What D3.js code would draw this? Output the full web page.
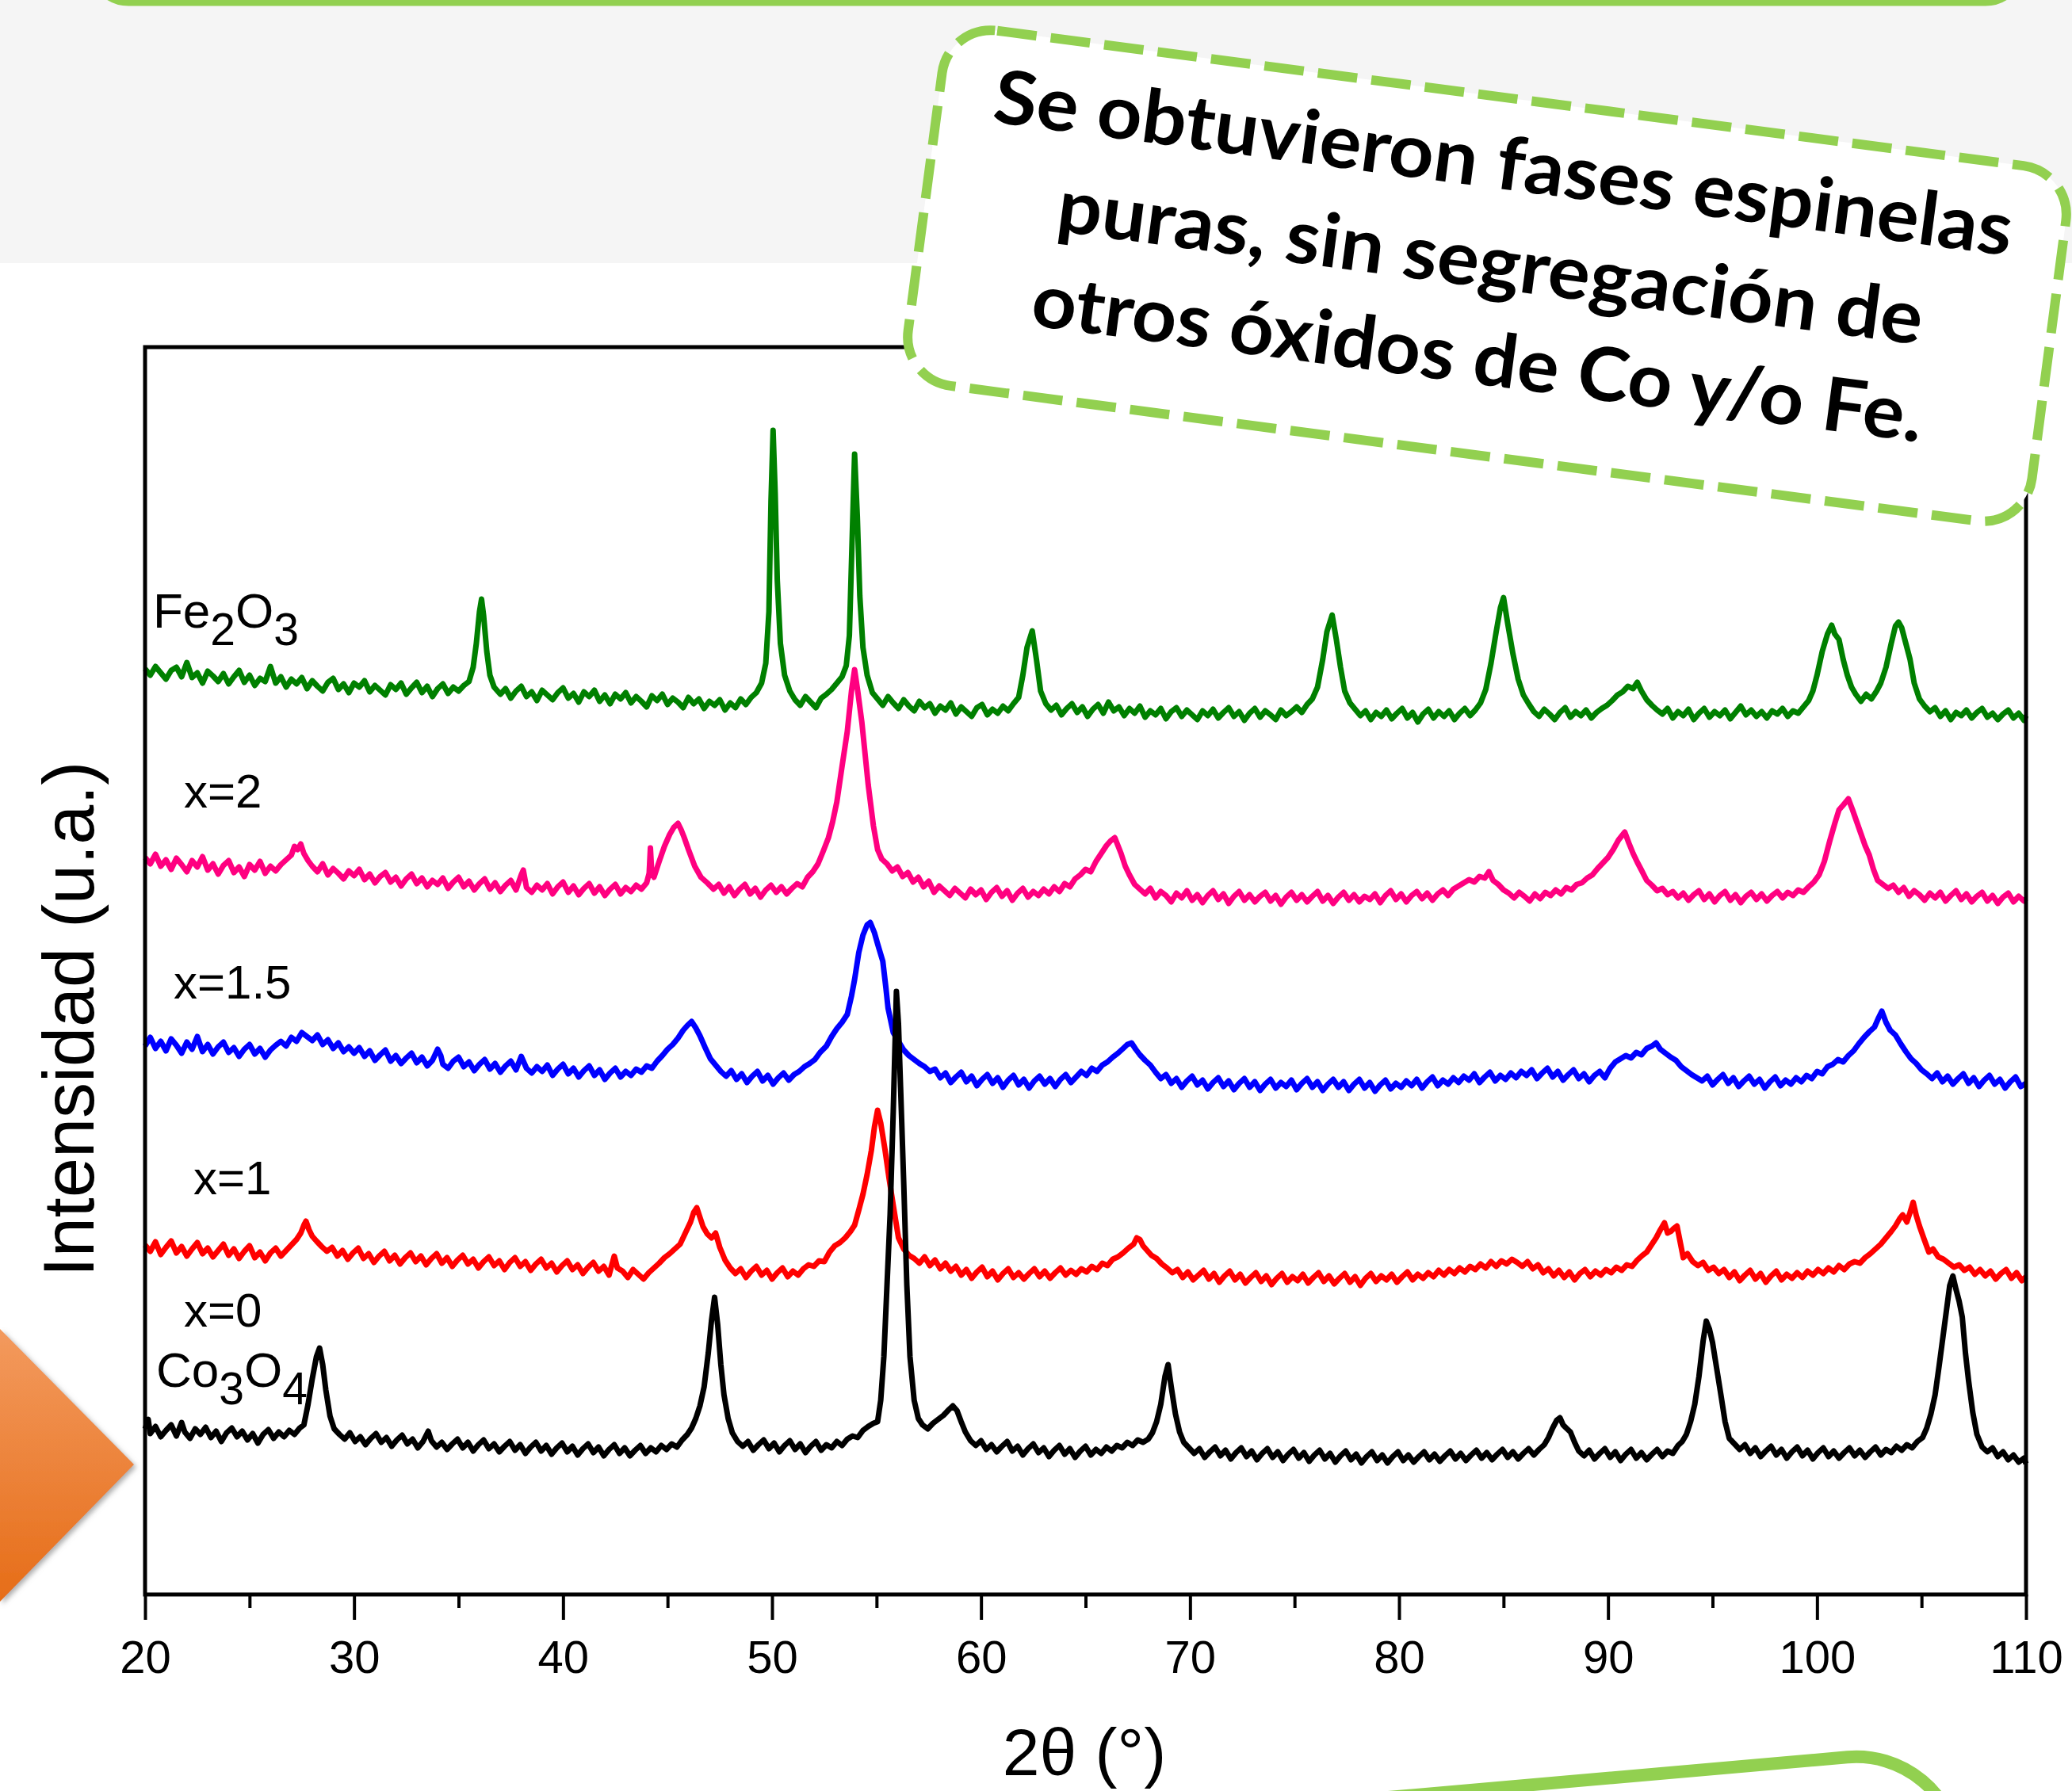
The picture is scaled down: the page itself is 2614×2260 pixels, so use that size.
<!DOCTYPE html>
<html>
<head>
<meta charset="utf-8">
<script src="https://cdn.jsdelivr.net/npm/d3@7"></script>
<style>
body { margin: 0; background: #fff; }
svg { display: block; }
</style>
</head>
<body>
<svg id="chart" width="2614" height="2260"></svg>
<script>
// XRD patterns, [2theta, intensity in u.a.] (stacking offset included)
const fe2o3 = [[20,1168],[20.25,1160],[20.5,1171],[20.75,1163],[21,1155],[21.25,1166],[21.5,1170],[21.75,1158],[22,1176],[22.25,1157],[22.5,1163],[22.75,1150],[23,1165],[23.25,1159],[23.5,1152],[23.75,1162],[24,1149],[24.25,1158],[24.5,1166],[24.75,1151],[25,1160],[25.25,1147],[25.5,1156],[25.75,1152],[26,1171],[26.25,1150],[26.5,1158],[26.75,1145],[27,1155],[27.25,1149],[27.5,1157],[27.75,1143],[28,1153],[28.25,1146],[28.5,1140],[28.75,1151],[29,1156],[29.25,1142],[29.5,1149],[29.75,1138],[30,1150],[30.25,1145],[30.5,1153],[30.75,1139],[31,1147],[31.25,1141],[31.5,1135],[31.75,1148],[32,1142],[32.25,1150],[32.5,1136],[32.75,1144],[33,1151],[33.25,1138],[33.5,1146],[33.75,1133],[34,1143],[34.25,1149],[34.5,1137],[34.75,1145],[35,1140],[35.25,1147],[35.5,1152],[35.7,1170],[35.85,1200],[36,1240],[36.1,1256],[36.2,1235],[36.35,1190],[36.5,1160],[36.7,1145],[37,1136],[37.25,1143],[37.5,1131],[37.75,1140],[38,1146],[38.25,1133],[38.5,1139],[38.75,1128],[39,1141],[39.25,1135],[39.5,1129],[39.75,1138],[40,1144],[40.25,1131],[40.5,1137],[40.75,1126],[41,1139],[41.25,1133],[41.5,1141],[41.75,1127],[42,1135],[42.25,1124],[42.5,1136],[42.75,1130],[43,1138],[43.25,1125],[43.5,1133],[43.75,1127],[44,1120],[44.25,1134],[44.5,1128],[44.75,1136],[45,1123],[45.25,1131],[45.5,1126],[45.75,1119],[46,1132],[46.25,1124],[46.5,1130],[46.75,1118],[47,1127],[47.25,1122],[47.5,1129],[47.75,1116],[48,1125],[48.25,1119],[48.5,1130],[48.75,1123],[49,1132],[49.25,1138],[49.5,1150],[49.7,1175],[49.85,1240],[49.95,1380],[50.05,1469],[50.15,1390],[50.25,1280],[50.4,1200],[50.6,1160],[50.85,1140],[51.1,1129],[51.35,1122],[51.6,1133],[51.85,1126],[52.1,1119],[52.35,1131],[52.6,1136],[52.85,1142],[53.1,1150],[53.35,1158],[53.55,1172],[53.7,1210],[53.82,1320],[53.95,1439],[54.08,1360],[54.2,1260],[54.35,1195],[54.55,1160],[54.8,1138],[55.05,1130],[55.3,1122],[55.55,1133],[55.8,1125],[56.05,1118],[56.3,1129],[56.55,1121],[56.8,1115],[57.05,1127],[57.3,1119],[57.55,1124],[57.8,1112],[58.05,1121],[58.3,1116],[58.55,1125],[58.8,1111],[59.05,1120],[59.3,1114],[59.55,1108],[59.8,1119],[60.05,1123],[60.3,1110],[60.55,1117],[60.8,1112],[61.05,1121],[61.3,1115],[61.55,1124],[61.8,1132],[62,1160],[62.2,1195],[62.45,1216],[62.65,1180],[62.85,1140],[63.1,1124],[63.35,1116],[63.6,1122],[63.85,1110],[64.1,1118],[64.35,1124],[64.6,1113],[64.85,1120],[65.1,1108],[65.35,1117],[65.6,1123],[65.85,1112],[66.1,1126],[66.35,1115],[66.6,1120],[66.85,1109],[67.1,1118],[67.35,1112],[67.6,1121],[67.85,1107],[68.1,1115],[68.35,1110],[68.6,1118],[68.85,1105],[69.1,1114],[69.35,1119],[69.6,1108],[69.85,1116],[70.1,1110],[70.35,1104],[70.6,1115],[70.85,1109],[71.1,1117],[71.35,1106],[71.6,1113],[71.85,1119],[72.1,1108],[72.35,1114],[72.6,1103],[72.85,1112],[73.1,1118],[73.35,1107],[73.6,1115],[73.85,1110],[74.1,1104],[74.35,1116],[74.6,1109],[74.85,1114],[75.1,1120],[75.35,1113],[75.6,1123],[75.85,1130],[76.1,1145],[76.35,1180],[76.55,1215],[76.8,1236],[77,1205],[77.2,1170],[77.4,1140],[77.65,1125],[77.9,1117],[78.15,1109],[78.4,1115],[78.65,1104],[78.9,1113],[79.15,1108],[79.4,1116],[79.65,1105],[79.9,1112],[80.15,1118],[80.4,1106],[80.65,1113],[80.9,1101],[81.15,1111],[81.4,1117],[81.65,1106],[81.9,1114],[82.15,1108],[82.4,1115],[82.65,1104],[82.9,1112],[83.15,1118],[83.4,1109],[83.65,1116],[83.9,1125],[84.15,1142],[84.4,1175],[84.65,1215],[84.85,1245],[85,1258],[85.2,1225],[85.45,1187],[85.7,1155],[85.95,1135],[86.2,1124],[86.45,1114],[86.7,1108],[86.95,1117],[87.2,1111],[87.45,1104],[87.7,1113],[87.95,1119],[88.2,1107],[88.45,1114],[88.7,1109],[88.95,1116],[89.2,1106],[89.45,1113],[89.7,1118],[89.95,1122],[90.2,1128],[90.45,1135],[90.7,1139],[90.95,1146],[91.2,1143],[91.4,1151],[91.6,1140],[91.85,1129],[92.1,1122],[92.35,1116],[92.6,1111],[92.85,1118],[93.1,1106],[93.35,1114],[93.6,1109],[93.85,1117],[94.1,1104],[94.35,1112],[94.6,1118],[94.85,1107],[95.1,1114],[95.35,1109],[95.6,1116],[95.85,1105],[96.1,1113],[96.35,1121],[96.6,1110],[96.85,1116],[97.1,1108],[97.35,1114],[97.6,1106],[97.85,1115],[98.1,1111],[98.35,1118],[98.6,1108],[98.85,1115],[99.1,1112],[99.35,1120],[99.6,1128],[99.8,1140],[100,1160],[100.25,1190],[100.5,1212],[100.7,1223],[100.85,1212],[101.05,1205],[101.25,1180],[101.45,1160],[101.65,1145],[101.85,1136],[102.1,1127],[102.35,1136],[102.6,1130],[102.85,1140],[103.05,1150],[103.3,1170],[103.55,1200],[103.75,1222],[103.9,1227],[104.05,1220],[104.25,1200],[104.45,1180],[104.65,1150],[104.9,1130],[105.15,1121],[105.4,1114],[105.65,1119],[105.9,1108],[106.15,1115],[106.4,1104],[106.65,1113],[106.9,1109],[107.15,1116],[107.4,1106],[107.65,1113],[107.9,1118],[108.15,1107],[108.4,1112],[108.65,1104],[108.9,1111],[109.15,1116],[109.4,1106],[109.65,1112],[109.9,1103],[110,1109]];

const x2 = [[20,930],[20.25,922],[20.5,934],[20.75,919],[21,927],[21.25,915],[21.5,929],[21.75,921],[22,912],[22.25,926],[22.5,918],[22.75,931],[23,914],[23.25,922],[23.5,909],[23.75,920],[24,926],[24.25,911],[24.5,918],[24.75,906],[25,921],[25.25,914],[25.5,925],[25.75,910],[26,919],[26.25,913],[26.5,921],[26.75,927],[27,933],[27.15,944],[27.3,940],[27.45,947],[27.6,935],[27.8,926],[28,919],[28.25,912],[28.5,922],[28.75,908],[29,916],[29.25,910],[29.5,903],[29.75,913],[30,907],[30.25,915],[30.5,902],[30.75,909],[31,898],[31.25,906],[31.5,911],[31.75,899],[32,905],[32.25,894],[32.5,903],[32.75,909],[33,897],[33.25,904],[33.5,893],[33.75,901],[34,896],[34.25,904],[34.5,891],[34.75,899],[35,905],[35.25,893],[35.5,900],[35.75,889],[36,897],[36.25,903],[36.5,890],[36.75,898],[37,887],[37.25,895],[37.5,901],[37.75,889],[38,908],[38.1,914],[38.25,892],[38.5,886],[38.75,895],[39,889],[39.25,897],[39.5,884],[39.75,893],[40,899],[40.25,886],[40.5,894],[40.75,883],[41,891],[41.25,897],[41.5,885],[41.75,893],[42,882],[42.25,890],[42.5,896],[42.75,884],[43,892],[43.25,887],[43.5,895],[43.75,890],[44,898],[44.12,910],[44.18,942],[44.24,912],[44.35,905],[44.6,925],[44.85,944],[45.1,959],[45.3,968],[45.5,973],[45.65,965],[45.8,955],[46,940],[46.3,919],[46.6,905],[46.9,898],[47.2,890],[47.45,896],[47.7,885],[47.95,893],[48.2,882],[48.45,890],[48.7,896],[48.95,884],[49.2,891],[49.45,880],[49.7,889],[49.95,895],[50.2,886],[50.45,893],[50.7,884],[50.95,891],[51.2,897],[51.45,893],[51.7,905],[51.95,912],[52.2,922],[52.45,938],[52.7,955],[52.9,975],[53.1,1000],[53.35,1045],[53.6,1089],[53.8,1140],[53.95,1167],[54.1,1140],[54.3,1100],[54.6,1022],[54.85,970],[55.05,940],[55.25,928],[55.5,922],[55.75,913],[56,918],[56.25,906],[56.5,911],[56.75,899],[57,905],[57.25,893],[57.5,900],[57.75,886],[58,894],[58.25,888],[58.5,882],[58.75,891],[59,885],[59.25,879],[59.5,890],[59.75,883],[60,889],[60.25,877],[60.5,886],[60.75,892],[61,881],[61.25,888],[61.5,876],[61.75,885],[62,891],[62.25,880],[62.5,887],[62.75,882],[63,890],[63.25,884],[63.5,893],[63.75,887],[64,897],[64.25,893],[64.5,903],[64.75,908],[65,915],[65.25,912],[65.5,925],[65.75,935],[66,945],[66.2,951],[66.4,955],[66.55,945],[66.7,935],[66.9,919],[67.1,908],[67.35,896],[67.6,890],[67.85,884],[68.1,891],[68.35,879],[68.6,887],[68.85,882],[69.1,874],[69.35,885],[69.6,879],[69.85,888],[70.1,876],[70.35,883],[70.6,873],[70.85,882],[71.1,888],[71.35,877],[71.6,884],[71.85,872],[72.1,881],[72.35,887],[72.6,876],[72.85,883],[73.1,874],[73.35,881],[73.6,886],[73.85,875],[74.1,882],[74.35,871],[74.6,880],[74.85,886],[75.1,876],[75.35,883],[75.6,874],[75.85,881],[76.1,887],[76.35,875],[76.6,882],[76.85,872],[77.1,880],[77.35,886],[77.6,876],[77.85,883],[78.1,874],[78.35,881],[78.6,877],[78.85,884],[79.1,873],[79.35,882],[79.6,888],[79.85,877],[80.1,884],[80.35,874],[80.6,882],[80.85,887],[81.1,878],[81.35,885],[81.6,876],[81.85,884],[82.1,889],[82.35,882],[82.6,890],[82.85,894],[83.1,898],[83.35,902],[83.6,899],[83.85,906],[84.1,904],[84.3,912],[84.5,901],[84.75,896],[85,889],[85.25,885],[85.5,879],[85.75,886],[86,881],[86.25,875],[86.5,884],[86.75,878],[87,886],[87.25,882],[87.5,889],[87.75,884],[88,892],[88.25,889],[88.5,896],[88.75,898],[89,904],[89.25,908],[89.5,916],[89.75,923],[90,930],[90.25,940],[90.5,952],[90.8,962],[91,948],[91.2,935],[91.4,924],[91.6,914],[91.85,901],[92.1,895],[92.35,888],[92.6,891],[92.85,883],[93.1,887],[93.35,879],[93.6,885],[93.85,876],[94.1,883],[94.35,888],[94.6,877],[94.85,884],[95.1,874],[95.35,882],[95.6,887],[95.85,876],[96.1,883],[96.35,873],[96.6,881],[96.85,886],[97.1,877],[97.35,884],[97.6,875],[97.85,882],[98.1,887],[98.35,879],[98.6,886],[98.85,882],[99.1,889],[99.35,886],[99.6,893],[99.85,899],[100.1,908],[100.35,925],[100.6,950],[100.85,973],[101.05,990],[101.25,996],[101.5,1004],[101.7,990],[101.9,975],[102.1,960],[102.3,945],[102.5,933],[102.7,915],[102.9,901],[103.15,896],[103.4,891],[103.65,895],[103.9,886],[104.15,892],[104.4,881],[104.65,888],[104.9,883],[105.15,876],[105.4,885],[105.65,879],[105.9,886],[106.15,875],[106.4,882],[106.65,888],[106.9,877],[107.15,884],[107.4,874],[107.65,881],[107.9,886],[108.15,875],[108.4,882],[108.65,872],[108.9,880],[109.15,885],[109.4,874],[109.65,881],[109.9,875],[110,878]];

const x15 = [[20,692],[20.25,703],[20.5,689],[20.75,698],[21,686],[21.25,701],[21.5,693],[21.75,683],[22,697],[22.25,688],[22.5,704],[22.75,685],[23,694],[23.25,682],[23.5,691],[23.75,697],[24,684],[24.25,690],[24.5,679],[24.75,688],[25,694],[25.25,682],[25.5,689],[25.75,678],[26,687],[26.25,693],[26.5,698],[26.75,692],[27,703],[27.25,698],[27.5,709],[27.75,704],[28,699],[28.25,706],[28.5,694],[28.75,700],[29,689],[29.25,696],[29.5,685],[29.75,691],[30,683],[30.25,690],[30.5,679],[30.75,686],[31,674],[31.25,681],[31.5,687],[31.75,673],[32,680],[32.25,670],[32.5,677],[32.75,683],[33,671],[33.25,678],[33.5,667],[33.75,674],[34,688],[34.15,680],[34.25,669],[34.5,664],[34.75,673],[35,678],[35.25,666],[35.5,672],[35.75,661],[36,669],[36.25,675],[36.5,663],[36.75,670],[37,659],[37.25,667],[37.5,673],[37.75,662],[38,679],[38.25,664],[38.5,658],[38.75,666],[39,660],[39.25,668],[39.5,655],[39.75,663],[40,669],[40.25,657],[40.5,664],[40.75,653],[41,661],[41.25,667],[41.5,655],[41.75,662],[42,650],[42.25,658],[42.5,664],[42.75,653],[43,660],[43.25,655],[43.5,663],[43.75,659],[44,667],[44.25,664],[44.5,673],[44.75,680],[45,688],[45.25,694],[45.5,702],[45.75,712],[45.95,718],[46.15,723],[46.35,715],[46.55,705],[46.8,690],[47.05,676],[47.3,668],[47.55,660],[47.8,654],[48.05,661],[48.3,650],[48.55,657],[48.8,646],[49.05,654],[49.3,660],[49.55,648],[49.8,655],[50.05,644],[50.3,652],[50.55,658],[50.8,649],[51.05,656],[51.3,660],[51.55,666],[51.8,670],[52.05,675],[52.3,684],[52.6,692],[52.85,704],[53.1,714],[53.35,722],[53.6,732],[53.8,755],[53.95,776],[54.15,810],[54.35,832],[54.55,845],[54.7,848],[54.9,835],[55.05,821],[55.3,799],[55.45,765],[55.55,740],[55.8,709],[56.05,698],[56.3,687],[56.55,680],[56.8,675],[57.05,670],[57.3,666],[57.55,660],[57.8,663],[58.05,652],[58.3,658],[58.55,646],[58.8,653],[59.05,659],[59.3,647],[59.55,654],[59.8,642],[60.05,650],[60.3,656],[60.55,645],[60.8,652],[61.05,640],[61.3,649],[61.55,655],[61.8,643],[62.05,650],[62.3,639],[62.55,648],[62.8,654],[63.05,644],[63.3,651],[63.55,641],[63.8,650],[64.05,656],[64.3,646],[64.55,653],[64.8,660],[65.05,655],[65.3,664],[65.55,660],[65.8,668],[66.05,672],[66.3,678],[66.55,683],[66.8,689],[67,694],[67.2,696],[67.4,688],[67.6,681],[67.85,674],[68.1,668],[68.35,659],[68.6,651],[68.85,656],[69.1,645],[69.35,651],[69.6,640],[69.85,648],[70.1,654],[70.35,643],[70.6,649],[70.85,638],[71.1,646],[71.35,652],[71.6,641],[71.85,648],[72.1,637],[72.35,645],[72.6,651],[72.85,640],[73.1,647],[73.35,636],[73.6,644],[73.85,650],[74.1,639],[74.35,646],[74.6,641],[74.85,649],[75.1,637],[75.35,645],[75.6,651],[75.85,640],[76.1,647],[76.35,636],[76.6,644],[76.85,650],[77.1,640],[77.35,647],[77.6,636],[77.85,644],[78.1,650],[78.35,639],[78.6,646],[78.85,635],[79.1,643],[79.35,649],[79.6,638],[79.85,645],[80.1,640],[80.35,648],[80.6,642],[80.85,650],[81.1,639],[81.35,647],[81.6,653],[81.85,642],[82.1,649],[82.35,644],[82.6,652],[82.85,646],[83.1,654],[83.35,649],[83.6,657],[83.85,646],[84.1,653],[84.35,659],[84.6,648],[84.85,655],[85.1,650],[85.35,658],[85.6,652],[85.85,660],[86.1,655],[86.35,662],[86.6,651],[86.85,658],[87.1,664],[87.35,653],[87.6,660],[87.85,649],[88.1,656],[88.35,662],[88.6,651],[88.85,657],[89.1,647],[89.35,655],[89.6,660],[89.85,652],[90.1,664],[90.35,672],[90.6,676],[90.85,680],[91.1,677],[91.35,684],[91.6,681],[91.85,689],[92.1,692],[92.3,696],[92.5,688],[92.75,683],[93,678],[93.25,674],[93.5,666],[93.75,661],[94,656],[94.25,652],[94.5,648],[94.75,654],[95,643],[95.25,650],[95.5,656],[95.75,645],[96,652],[96.25,641],[96.5,648],[96.75,654],[97,644],[97.25,650],[97.5,639],[97.75,647],[98,653],[98.25,642],[98.5,649],[98.75,644],[99,652],[99.25,647],[99.5,655],[99.75,651],[100,660],[100.25,657],[100.5,666],[100.75,669],[101,675],[101.25,672],[101.5,680],[101.75,686],[102,695],[102.25,703],[102.5,710],[102.75,716],[102.95,728],[103.1,736],[103.3,722],[103.5,712],[103.75,706],[104,695],[104.25,685],[104.5,676],[104.75,670],[105,662],[105.25,657],[105.5,651],[105.75,658],[106,647],[106.25,654],[106.5,644],[106.75,651],[107,657],[107.25,645],[107.5,652],[107.75,641],[108,649],[108.25,655],[108.5,644],[108.75,650],[109,639],[109.25,647],[109.5,653],[109.75,641],[110,645]];

const x1 = [[20,441],[20.25,433],[20.5,445],[20.75,429],[21,438],[21.25,446],[21.5,431],[21.75,439],[22,427],[22.25,436],[22.5,444],[22.75,430],[23,437],[23.25,426],[23.5,434],[23.75,442],[24,428],[24.25,436],[24.5,424],[24.75,433],[25,440],[25.25,425],[25.5,432],[25.75,421],[26,431],[26.25,437],[26.5,427],[26.75,434],[27,441],[27.25,448],[27.45,456],[27.6,466],[27.7,471],[27.85,460],[28,452],[28.2,446],[28.45,439],[28.7,433],[28.95,438],[29.2,427],[29.45,434],[29.7,423],[29.95,431],[30.2,437],[30.45,424],[30.7,430],[30.95,419],[31.2,427],[31.45,433],[31.7,421],[31.95,428],[32.2,417],[32.45,425],[32.7,431],[32.95,420],[33.2,427],[33.45,416],[33.7,424],[33.95,430],[34.2,418],[34.45,425],[34.7,414],[34.95,422],[35.2,428],[35.45,417],[35.7,423],[35.95,412],[36.2,420],[36.45,426],[36.7,415],[36.95,421],[37.2,410],[37.45,419],[37.7,425],[37.95,414],[38.2,420],[38.45,409],[38.7,417],[38.95,423],[39.2,412],[39.45,418],[39.7,407],[39.95,415],[40.2,421],[40.45,410],[40.7,416],[40.95,405],[41.2,413],[41.45,419],[41.7,408],[41.95,414],[42.2,403],[42.45,427],[42.6,412],[42.85,408],[43.1,400],[43.35,410],[43.6,404],[43.85,398],[44.1,406],[44.35,412],[44.6,418],[44.85,425],[45.1,430],[45.35,436],[45.6,442],[45.85,456],[46.1,470],[46.25,482],[46.4,488],[46.55,476],[46.7,464],[46.9,455],[47.1,450],[47.3,456],[47.5,438],[47.75,422],[48,412],[48.25,405],[48.5,411],[48.75,400],[49,408],[49.25,414],[49.5,403],[49.75,409],[50,398],[50.25,406],[50.5,412],[50.75,401],[51,408],[51.25,403],[51.5,411],[51.75,416],[52,414],[52.25,421],[52.5,420],[52.75,432],[53,440],[53.25,444],[53.5,450],[53.75,458],[53.95,466],[54.15,485],[54.35,505],[54.55,530],[54.75,560],[54.9,590],[55.05,611],[55.2,595],[55.4,562],[55.6,525],[55.8,491],[56.05,450],[56.3,436],[56.55,428],[56.8,424],[57.05,418],[57.3,426],[57.55,415],[57.8,422],[58.05,411],[58.3,418],[58.55,408],[58.8,414],[59.05,403],[59.3,410],[59.55,399],[59.8,407],[60.05,413],[60.3,401],[60.55,408],[60.8,397],[61.05,405],[61.3,411],[61.55,400],[61.8,406],[62.05,398],[62.3,405],[62.55,411],[62.8,401],[63.05,408],[63.3,399],[63.55,406],[63.8,412],[64.05,403],[64.3,409],[64.55,404],[64.8,411],[65.05,407],[65.3,414],[65.55,410],[65.8,418],[66.05,415],[66.3,423],[66.55,426],[66.8,431],[67.05,437],[67.3,442],[67.45,450],[67.6,448],[67.75,440],[67.95,434],[68.15,428],[68.4,424],[68.65,417],[68.9,412],[69.15,406],[69.4,410],[69.65,400],[69.9,407],[70.15,397],[70.4,403],[70.65,409],[70.9,398],[71.15,405],[71.4,394],[71.65,402],[71.9,408],[72.15,397],[72.4,404],[72.65,393],[72.9,400],[73.15,406],[73.4,395],[73.65,402],[73.9,391],[74.15,399],[74.4,405],[74.65,394],[74.9,401],[75.15,396],[75.4,404],[75.65,393],[75.9,400],[76.15,406],[76.4,395],[76.65,402],[76.9,392],[77.15,399],[77.4,405],[77.65,394],[77.9,401],[78.15,390],[78.4,399],[78.65,405],[78.9,395],[79.15,402],[79.4,397],[79.65,404],[79.9,394],[80.15,401],[80.4,407],[80.65,397],[80.9,404],[81.15,399],[81.4,406],[81.65,401],[81.9,409],[82.15,403],[82.4,410],[82.65,405],[82.9,412],[83.15,407],[83.4,414],[83.65,410],[83.9,417],[84.15,412],[84.4,420],[84.65,414],[84.9,421],[85.15,417],[85.4,423],[85.65,419],[85.9,414],[86.15,420],[86.4,411],[86.65,416],[86.9,406],[87.15,411],[87.4,402],[87.65,409],[87.9,400],[88.15,407],[88.4,397],[88.65,405],[88.9,410],[89.15,401],[89.4,408],[89.65,403],[89.9,410],[90.15,406],[90.4,413],[90.65,409],[90.9,416],[91.15,414],[91.4,422],[91.65,428],[91.85,432],[92.05,440],[92.3,450],[92.5,460],[92.7,469],[92.85,456],[93,458],[93.15,462],[93.3,465],[93.45,445],[93.6,425],[93.8,430],[94.05,420],[94.3,415],[94.55,419],[94.8,409],[95.05,413],[95.3,405],[95.55,410],[95.8,400],[96.05,407],[96.3,396],[96.55,403],[96.8,409],[97.05,398],[97.3,405],[97.55,394],[97.8,402],[98.05,408],[98.3,397],[98.55,404],[98.8,399],[99.05,406],[99.3,400],[99.55,408],[99.8,403],[100.05,410],[100.3,405],[100.55,412],[100.8,407],[101.05,415],[101.3,410],[101.55,417],[101.8,420],[102.05,418],[102.3,425],[102.55,430],[102.8,436],[103.05,442],[103.3,450],[103.55,458],[103.75,465],[103.95,474],[104.1,479],[104.3,470],[104.45,482],[104.6,495],[104.75,478],[104.9,465],[105.1,450],[105.35,432],[105.55,436],[105.8,426],[106.05,423],[106.3,418],[106.55,413],[106.8,416],[107.05,409],[107.3,413],[107.55,404],[107.8,410],[108.05,402],[108.3,408],[108.55,398],[108.8,405],[109.05,410],[109.3,399],[109.55,406],[109.8,396],[110,401]];

const co3o4 = [[20,209],[20.15,221],[20.25,203],[20.5,212],[20.75,199],[21,207],[21.25,214],[21.5,200],[21.75,217],[21.9,205],[22.15,197],[22.4,209],[22.65,202],[22.9,211],[23.15,198],[23.4,206],[23.65,193],[23.9,204],[24.15,210],[24.4,199],[24.65,206],[24.9,195],[25.15,203],[25.4,191],[25.65,202],[25.9,208],[26.15,197],[26.4,205],[26.65,199],[26.9,207],[27.15,202],[27.4,210],[27.6,214],[27.8,240],[28,272],[28.2,300],[28.35,311],[28.5,290],[28.65,258],[28.85,225],[29.05,209],[29.3,202],[29.55,196],[29.8,204],[30.05,193],[30.3,199],[30.55,189],[30.8,197],[31.05,203],[31.3,192],[31.55,198],[31.8,187],[32.05,195],[32.3,201],[32.55,190],[32.8,196],[33.05,185],[33.3,193],[33.55,206],[33.7,194],[33.95,186],[34.2,192],[34.45,183],[34.7,190],[34.95,196],[35.2,185],[35.45,192],[35.7,181],[35.95,189],[36.2,195],[36.45,184],[36.7,190],[36.95,180],[37.2,187],[37.45,193],[37.7,182],[37.95,189],[38.2,178],[38.45,186],[38.7,192],[38.95,181],[39.2,188],[39.45,177],[39.7,185],[39.95,191],[40.2,180],[40.45,187],[40.7,176],[40.95,184],[41.2,190],[41.45,179],[41.7,186],[41.95,175],[42.2,183],[42.45,189],[42.7,178],[42.95,185],[43.2,175],[43.45,182],[43.7,188],[43.95,178],[44.2,185],[44.45,180],[44.7,188],[44.95,183],[45.2,190],[45.45,186],[45.7,195],[45.95,202],[46.15,210],[46.35,222],[46.55,238],[46.75,262],[46.95,305],[47.1,345],[47.25,375],[47.4,340],[47.55,290],[47.7,252],[47.9,222],[48.1,204],[48.35,193],[48.6,187],[48.85,193],[49.1,182],[49.35,189],[49.6,195],[49.85,184],[50.1,191],[50.35,180],[50.6,188],[50.85,194],[51.1,183],[51.35,190],[51.6,179],[51.85,187],[52.1,193],[52.35,182],[52.6,189],[52.85,185],[53.1,193],[53.35,188],[53.6,196],[53.85,200],[54.1,198],[54.35,207],[54.6,212],[54.85,216],[55.05,218],[55.2,245],[55.35,300],[55.5,390],[55.65,480],[55.8,610],[55.95,761],[56.05,720],[56.15,640],[56.3,520],[56.45,390],[56.6,300],[56.8,245],[57,222],[57.2,214],[57.45,209],[57.7,216],[57.95,221],[58.2,226],[58.45,233],[58.65,238],[58.85,232],[59.05,218],[59.25,205],[59.5,194],[59.75,188],[60,194],[60.25,183],[60.5,189],[60.75,180],[61,187],[61.25,193],[61.5,181],[61.75,187],[62,176],[62.25,184],[62.5,190],[62.75,179],[63,185],[63.25,174],[63.5,182],[63.75,188],[64,177],[64.25,184],[64.5,173],[64.75,181],[65,187],[65.25,176],[65.5,183],[65.75,178],[66,186],[66.25,181],[66.5,188],[66.75,185],[67,192],[67.25,188],[67.5,195],[67.75,192],[68,196],[68.2,204],[68.4,218],[68.6,240],[68.8,275],[68.95,290],[69.1,262],[69.3,228],[69.5,205],[69.7,192],[69.95,185],[70.2,178],[70.45,184],[70.7,173],[70.95,180],[71.2,186],[71.45,175],[71.7,182],[71.95,171],[72.2,179],[72.45,185],[72.7,174],[72.95,181],[73.2,170],[73.45,178],[73.7,184],[73.95,173],[74.2,180],[74.45,169],[74.7,177],[74.95,183],[75.2,172],[75.45,179],[75.7,168],[75.95,176],[76.2,182],[76.45,171],[76.7,178],[76.95,167],[77.2,175],[77.45,181],[77.7,170],[77.95,177],[78.2,166],[78.45,174],[78.7,180],[78.95,169],[79.2,176],[79.45,166],[79.7,174],[79.95,180],[80.2,169],[80.45,176],[80.7,167],[80.95,174],[81.2,180],[81.45,170],[81.7,177],[81.95,168],[82.2,175],[82.45,181],[82.7,171],[82.95,178],[83.2,169],[83.45,176],[83.7,182],[83.95,172],[84.2,179],[84.45,170],[84.7,177],[84.95,183],[85.2,173],[85.45,180],[85.7,171],[85.95,178],[86.2,184],[86.45,176],[86.7,183],[86.95,189],[87.15,198],[87.35,210],[87.55,220],[87.7,223],[87.85,214],[88,210],[88.2,205],[88.4,192],[88.6,181],[88.85,175],[89.1,182],[89.35,171],[89.6,178],[89.85,184],[90.1,173],[90.35,180],[90.6,169],[90.85,177],[91.1,183],[91.35,172],[91.6,179],[91.85,170],[92.1,177],[92.35,183],[92.6,174],[92.85,181],[93.1,178],[93.35,188],[93.55,193],[93.75,202],[93.95,218],[94.15,240],[94.35,275],[94.55,320],[94.7,345],[94.85,335],[95,318],[95.2,285],[95.4,252],[95.6,218],[95.8,197],[96.05,190],[96.3,183],[96.55,189],[96.8,178],[97.05,185],[97.3,174],[97.55,181],[97.8,187],[98.05,176],[98.3,183],[98.55,172],[98.8,180],[99.05,186],[99.3,175],[99.55,182],[99.8,171],[100.05,179],[100.3,185],[100.55,174],[100.8,181],[101.05,172],[101.3,179],[101.55,185],[101.8,175],[102.05,182],[102.3,173],[102.55,180],[102.8,186],[103.05,176],[103.3,183],[103.55,179],[103.8,187],[104.05,182],[104.3,189],[104.55,185],[104.8,193],[105.05,198],[105.25,210],[105.45,228],[105.65,252],[105.85,290],[106.05,330],[106.2,360],[106.35,390],[106.5,402],[106.65,385],[106.8,370],[106.95,350],[107.1,305],[107.25,270],[107.45,230],[107.65,202],[107.9,186],[108.15,180],[108.4,185],[108.65,174],[108.9,180],[109.15,170],[109.4,176],[109.65,167],[109.9,172],[110,165]];

const seriesNames = ["Fe2O3", "x=2", "x=1.5", "x=1", "x=0"];
const seriesColors = ["#008000", "#ff0080", "#0000ff", "#ff0000", "#000000"];
const seriesData = [fe2o3, x2, x15, x1, co3o4];

const xTicks = [20, 30, 40, 50, 60, 70, 80, 90, 100, 110];
const xMinor = [25, 35, 45, 55, 65, 75, 85, 95, 105];

const calloutLines = ["Se obtuvieron fases espinelas", "puras, sin segregación de", "otros óxidos de Co y/o Fe."];

const W = 2614, H = 2260;
const margin = {left: 183, top: 438, right: 58, bottom: 248};
const pw = W - margin.left - margin.right;
const ph = H - margin.top - margin.bottom;

const svg = d3.select("#chart");
const defs = svg.append("defs");

const grad = defs.append("linearGradient").attr("id", "orangeGrad")
    .attr("x1", 0).attr("y1", 0).attr("x2", 0).attr("y2", 1);
grad.append("stop").attr("offset", "0%").attr("stop-color", "#f39a5e");
grad.append("stop").attr("offset", "100%").attr("stop-color", "#e66d18");

const shadow = defs.append("filter").attr("id", "shadow")
    .attr("x", "-20%").attr("y", "-20%").attr("width", "160%").attr("height", "160%");
shadow.append("feDropShadow").attr("dx", 3).attr("dy", 3)
    .attr("stdDeviation", 3).attr("flood-color", "#777").attr("flood-opacity", 0.6);

// background decoration
svg.append("rect").attr("x", 0).attr("y", 0).attr("width", W).attr("height", 332)
    .attr("fill", "#f5f5f5");
svg.append("rect").attr("x", 117).attr("y", -300).attr("width", 2433).attr("height", 302)
    .attr("rx", 45).attr("fill", "#fff").attr("stroke", "#92d050").attr("stroke-width", 11);

svg.append("path").attr("d", "M0,1677 L169,1848 L0,2021 Z")
    .attr("fill", "url(#orangeGrad)").attr("filter", "url(#shadow)");

const x = d3.scaleLinear().domain([20, 110]).range([margin.left, margin.left + pw]);
const y = d3.scaleLinear().domain([0, 1574]).range([margin.top + ph, margin.top]);

const line = d3.line().x(d => x(d[0])).y(d => y(d[1]));

const g = svg.append("g");

// curves, black drawn last so it sits on top
g.selectAll(".curve")
    .data(seriesData)
    .enter()
    .append("path").classed("curve", true)
        .attr("d", line)
        .attr("fill", "none")
        .attr("stroke", (d, i) => seriesColors[i])
        .attr("stroke-width", 7)
        .attr("stroke-linejoin", "round");

// frame
g.append("rect").attr("x", margin.left).attr("y", margin.top)
    .attr("width", pw).attr("height", ph)
    .attr("fill", "none").attr("stroke", "#000").attr("stroke-width", 5);

const font = "'Liberation Sans', Arial, sans-serif";

const xAxis = g.append("g")
    .attr("transform", "translate(0," + (margin.top + ph) + ")")
    .call(d3.axisBottom(x).tickValues(xTicks).tickSize(32).tickPadding(26));
xAxis.select(".domain").remove();
xAxis.selectAll("line").attr("stroke-width", 4);
xAxis.selectAll("text").attr("font-family", font).attr("font-size", 58).attr("fill", "#000");

const xAxisMinor = g.append("g")
    .attr("transform", "translate(0," + (margin.top + ph) + ")")
    .call(d3.axisBottom(x).tickValues(xMinor).tickSize(17).tickFormat(""));
xAxisMinor.select(".domain").remove();
xAxisMinor.selectAll("line").attr("stroke-width", 4);

// axis titles
svg.append("text")
    .attr("x", 1368).attr("y", 2240)
    .attr("text-anchor", "middle")
    .attr("font-family", font).attr("font-size", 84)
    .text("2θ (°)");

svg.append("text")
    .attr("transform", "translate(118,1286) rotate(-90)")
    .attr("text-anchor", "middle")
    .attr("font-family", font).attr("font-size", 90)
    .text("Intensidad (u.a.)");

// curve labels
function chemLabel(px, py, parts)
{
    const t = svg.append("text").attr("x", px).attr("y", py)
        .attr("font-family", font).attr("font-size", 62);
    let sub = false;
    parts.forEach(function(p){
        const isSub = /^[0-9]$/.test(p);
        t.append("tspan")
            .attr("dy", isSub === sub ? 0 : (isSub ? 22 : -22))
            .attr("font-size", isSub ? 57 : 62)
            .text(p);
        sub = isSub;
    });
}
chemLabel(193, 792, ["Fe", "2", "O", "3"]);
chemLabel(197, 1750, ["Co", "3", "O", "4"]);

const plainLabels = [
    {t: seriesNames[1], x: 232, y: 1019},
    {t: seriesNames[2], x: 219, y: 1260},
    {t: seriesNames[3], x: 244, y: 1507},
    {t: seriesNames[4], x: 232, y: 1674}
];
svg.selectAll(".lbl").data(plainLabels).enter()
    .append("text").classed("lbl", true)
        .attr("x", d => d.x).attr("y", d => d.y)
        .attr("font-family", font).attr("font-size", 60)
        .text(d => d.t);

// dashed callout box
const callout = svg.append("g").attr("transform", "translate(1876,348) rotate(7.5)");
callout.append("rect")
    .attr("x", -715).attr("y", -226).attr("width", 1430).attr("height", 452)
    .attr("rx", 62)
    .attr("fill", "#fff").attr("stroke", "#92d050").attr("stroke-width", 12)
    .attr("stroke-dasharray", "50 18");
const lineY = [-111, 15, 137];
const lineW = [1295, 1100, 1133];
callout.selectAll(".cl").data(calloutLines).enter()
    .append("text").classed("cl", true)
        .attr("x", 2).attr("y", (d, i) => lineY[i])
        .attr("text-anchor", "middle")
        .attr("font-family", "Lato, 'Open Sans', sans-serif")
        .attr("font-weight", 700).attr("font-size", 94)
        .attr("textLength", (d, i) => lineW[i])
        .attr("lengthAdjust", "spacingAndGlyphs")
        .text(d => d);

// bottom right green box
svg.append("g").attr("transform", "translate(2460,2206) rotate(-5)")
    .append("rect")
        .attr("x", -1400).attr("y", 0).attr("width", 1400).attr("height", 400)
        .attr("rx", 130)
        .attr("fill", "#fff").attr("stroke", "#92d050").attr("stroke-width", 16);
</script>
</body>
</html>
